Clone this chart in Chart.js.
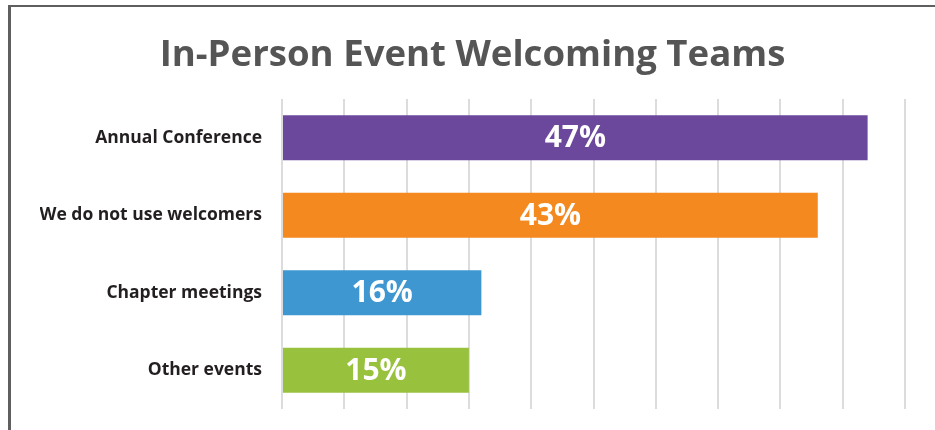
<!DOCTYPE html>
<html>
<head>
<meta charset="utf-8">
<script src="https://cdn.jsdelivr.net/npm/chart.js@4.4.1/dist/chart.umd.min.js"></script>
<style>
  html, body { margin: 0; padding: 0; background: #fff; }
  #wrap { position: relative; width: 935px; height: 430px; }
  #frame {
    position: absolute; left: 8px; top: 5px; right: 0; bottom: 0;
    border-top: 2px solid #5f5f5f; border-left: 3px solid #5f5f5f;
  }
  canvas { position: absolute; left: 0; top: 0; }
</style>
</head>
<body>
<div id="wrap">
  <div id="frame"></div>
  <canvas id="chart" width="935" height="430"></canvas>
</div>
<script>
const categories = ["Annual Conference", "We do not use welcomers", "Chapter meetings", "Other events"];
const values = [47, 43, 16, 15];
const barColors = ["#6b489b", "#f4891f", "#3e97d1", "#98c13d"];
const titleText = "In-Person Event Welcoming Teams";

// write the percentage in the middle of each bar
const valueLabels = {
    id: "valueLabels",
    afterDatasetsDraw(chart) {
        const ctx = chart.ctx;
        const meta = chart.getDatasetMeta(0);
        ctx.save();
        ctx.fillStyle = "#ffffff";
        ctx.font = "bold 30px 'Open Sans'";
        ctx.textAlign = "center";
        ctx.textBaseline = "middle";
        meta.data.forEach((bar, i) => {
            const cx = (bar.base + bar.x) / 2;
            ctx.fillText(values[i] + "%", cx, bar.y + 1);
        });
        ctx.restore();
    }
};

const ctx = document.getElementById("chart").getContext("2d");
new Chart(ctx, {
    type: "bar",
    data: {
        labels: categories,
        datasets: [{
            data: values,
            backgroundColor: barColors,
            borderWidth: 0,
            categoryPercentage: 1,
            barPercentage: 0.58
        }]
    },
    options: {
        indexAxis: "y",
        responsive: false,
        animation: false,
        layout: { padding: { top: 0, right: 30, bottom: 21, left: 40 } },
        plugins: {
            legend: { display: false },
            tooltip: { enabled: false },
            title: {
                display: true,
                text: titleText,
                color: "#555555",
                font: { family: "'Open Sans'", size: 36.6, weight: "bold" },
                padding: { top: 34, bottom: 21 }
            }
        },
        scales: {
            x: {
                min: 0,
                max: 50,
                ticks: { display: false, stepSize: 5 },
                grid: { color: "#dcdcdc", lineWidth: 2, drawTicks: false },
                border: { display: false }
            },
            y: {
                ticks: {
                    color: "#231f20",
                    font: { family: "'Open Sans'", size: 17.5, weight: "bold" },
                    padding: 20
                },
                grid: { display: false, drawTicks: false },
                border: { display: false },
                afterFit(scale) {
                    scale.width = 242;
                    scale.paddingTop = 0;
                    scale.paddingBottom = 0;
                }
            }
        }
    },
    plugins: [valueLabels]
});
</script>
</body>
</html>
